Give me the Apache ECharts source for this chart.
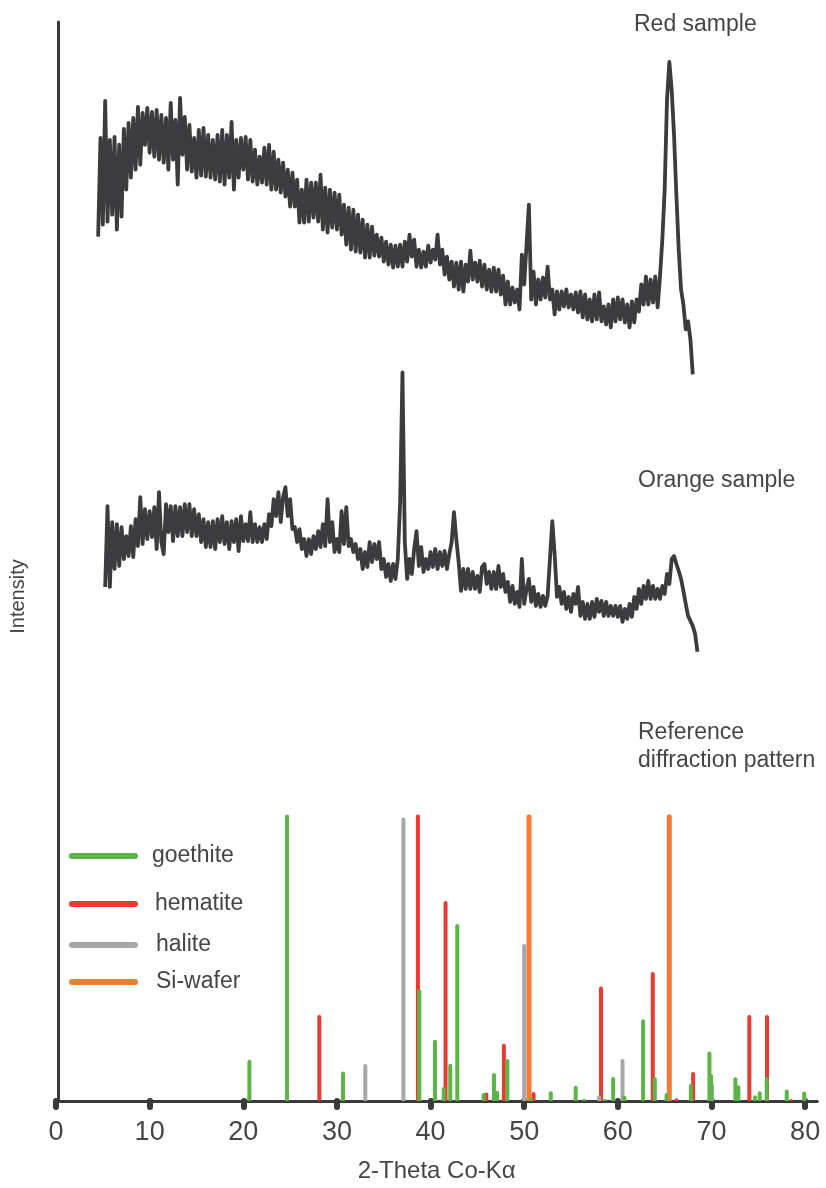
<!DOCTYPE html>
<html>
<head>
<meta charset="utf-8">
<script src="https://cdn.jsdelivr.net/npm/echarts@6/dist/echarts.min.js"></script>
<style>
html, body { margin: 0; padding: 0; background: #fff; }
#main { width: 826px; height: 1188px; }
</style>
</head>
<body>
<div id="main"></div>
<script>
// 2-theta tick labels
var xTicks = [0, 10, 20, 30, 40, 50, 60, 70, 80];

// measured scans, sampled every 0.25 deg 2-theta (arbitrary intensity, offset per sample)
var scanStep = 0.25;
var redStart = 4.5;
var redSample = [
    866,965,878,1002,881,963,888,966,873,958,
    886,974,913,980,925,985,933,996,938,990,
    958,995,950,991,946,993,943,988,940,985,
    933,1000,943,983,918,1005,948,986,933,978,
    931,965,925,973,927,975,926,968,925,963,
    923,968,921,973,918,968,925,981,913,963,
    925,965,933,966,923,963,921,953,918,946,
    920,955,918,958,913,951,913,943,910,940,
    906,933,896,930,896,923,880,913,880,923,
    881,920,885,920,881,928,873,915,870,913,
    875,910,873,908,868,898,858,895,853,893,
    851,888,850,883,845,878,845,876,847,868,
    846,865,841,861,838,858,835,857,836,858,
    836,861,841,868,846,863,836,853,835,851,
    836,857,840,853,843,868,838,853,828,846,
    823,841,816,840,813,841,811,838,821,852,
    823,840,821,842,816,838,813,833,811,835,
    811,833,808,827,798,821,798,815,800,813,
    793,848,818,858,898,803,831,798,823,803,
    825,805,836,803,813,788,811,793,811,796,
    813,795,808,793,810,790,811,785,808,783,
    803,781,808,783,810,781,796,778,798,775,
    803,781,805,783,803,780,798,775,801,780,
    803,791,818,798,826,798,823,800,826,795,
    826,863,913,1003,1041,1013,968,908,853,813,
    798,773,781,763,728
];
var orangeStart = 5.25;
var orangeSample = [
    515,596,515,580,533,578,536,575,543,566,
    546,576,545,583,556,605,558,593,563,591,
    565,595,553,610,560,548,598,570,596,561,
    596,566,595,566,598,570,598,566,593,566,
    588,560,583,555,580,555,581,553,583,560,
    586,558,580,553,581,560,583,551,586,561,
    578,561,590,560,578,560,575,560,578,563,
    588,576,603,586,610,580,605,615,586,603,
    573,575,560,573,553,563,546,563,548,566,
    553,571,555,578,556,603,560,580,550,563,
    550,591,558,595,556,563,550,558,543,553,
    533,550,535,560,540,558,543,560,533,543,
    525,538,521,538,523,543,600,730,560,523,
    543,528,553,571,536,555,530,543,533,550,
    535,553,533,550,536,551,533,548,560,590,
    563,540,511,533,513,533,513,530,513,526,
    510,535,538,518,530,513,530,513,536,515,
    528,510,520,500,516,498,510,495,543,498,
    513,523,500,515,496,508,495,506,496,506,
    543,581,548,505,515,498,510,493,505,490,
    508,498,515,486,500,483,498,483,500,485,
    503,490,501,486,500,486,496,486,496,485,
    496,480,493,483,498,485,505,493,513,498,
    516,503,521,503,516,503,513,503,516,508,
    528,518,543,546,538,531,523,511,498,486,
    481,476,468,450
];

// reference patterns: [2-theta, relative intensity %]
var goethite = [[20.65,14.4],[24.67,100],[30.65,10.3],[38.8,39],[40.47,21.4],[41.4,4.9],[42.1,13],[42.85,61.8],
    [45.66,2.8],[46.77,9.8],[47.1,3.6],[48.2,14.7],[50.7,1.4],[52.84,3.4],[55.5,5.3],[56.4,0.8],[58.6,0.8],
    [59.5,8.4],[60.7,1.8],[62.7,28.5],[63.95,8.4],[65.2,2.8],[67.8,5.9],[69.78,17.3],[69.96,9.4],[72.55,8.3],
    [72.87,5.5],[74.65,2],[75.15,3.4],[75.9,8.3],[78.04,4],[79.9,3.3]];
var hematite = [[28.12,30],[38.65,100],[41.6,69.8],[45.95,3],[47.83,20],[51.0,3.1],[58.2,40],[63.73,45],
    [66.26,1],[68.04,10.1],[74.04,30],[75.93,30],[78.5,0.7]];
var halite = [[33.03,12.9],[37.1,99],[50.0,54.8],[58.0,2],[60.5,14.7],[70.06,5.9]];
var siWafer = [[50.46,100],[65.44,100]];

function scan(start, vals) {
    return vals.map(function (v, i) { return [start + i * scanStep, v]; });
}

var axisColor = '#3a3a3c';
var textColor = '#454545';
var font = "'Liberation Sans', Arial, sans-serif";
var capsule = 'path://M3,0 L66,0 A3,3 0 0 1 66,6 L3,6 A3,3 0 0 1 3,0 Z';

function legendAt(name, top, gap) {
    return {
        data: [name], left: 69, top: top, icon: capsule,
        itemWidth: 69, itemHeight: 6, selectedMode: false, padding: 0,
        textStyle: { fontSize: 23, color: textColor, fontFamily: font, lineHeight: 26, padding: [0, 0, 0, gap] }
    };
}
function label(text, left, top) {
    return {
        text: text, left: left, top: top, padding: 0,
        textStyle: { fontSize: 23, fontWeight: 'normal', color: textColor, fontFamily: font, lineHeight: 28 }
    };
}
function sticks(name, data, color, width) {
    return {
        name: name, type: 'bar', yAxisIndex: 1, data: data, barWidth: width, barGap: '-100%',
        itemStyle: { color: color, borderRadius: [2, 2, 0, 0] }, silent: true
    };
}
function trace(name, data) {
    return {
        name: name, type: 'line', data: data, showSymbol: false, symbol: 'none', silent: true,
        lineStyle: { color: '#3c3c3e', width: 3.8, join: 'round' }
    };
}

var chart = echarts.init(document.getElementById('main'));
chart.setOption({
    animation: false,
    backgroundColor: '#fff',
    title: [
        label('Red sample', 634, 11),
        label('Orange sample', 638, 467),
        label('Reference\ndiffraction pattern', 638, 719)
    ],
    legend: [
        legendAt('goethite', 843, 9),
        legendAt('hematite', 891, 12),
        legendAt('halite', 932, 13),
        legendAt('Si-wafer', 969, 13)
    ],
    grid: { left: 55.5, right: 8.7, top: 22, bottom: 85, containLabel: false },
    xAxis: {
        type: 'value', min: 0, max: 81.3, interval: 10,
        name: '2-Theta Co-Kα', nameLocation: 'middle', nameGap: 58,
        nameTextStyle: { fontSize: 24, color: textColor, fontFamily: font },
        axisLine: { lineStyle: { color: axisColor, width: 3 } },
        axisTick: { customValues: xTicks, length: 6, lineStyle: { color: axisColor, width: 6, cap: 'round' } },
        axisLabel: { customValues: xTicks, fontSize: 27, color: textColor, fontFamily: font, margin: 18 },
        splitLine: { show: false }
    },
    yAxis: [{
        type: 'value', min: 0, max: 1081, offset: -2,
        name: 'Intensity', nameLocation: 'middle', nameGap: 30, nameRotate: 90,
        nameTextStyle: { fontSize: 20, color: textColor, fontFamily: font, padding: [0, 70, 0, 0] },
        axisLine: { show: true, lineStyle: { color: axisColor, width: 3 } },
        axisTick: { show: false }, axisLabel: { show: false }, splitLine: { show: false }
    }, {
        type: 'value', min: 0, max: 376.7, show: false
    }],
    series: [
        trace('Red sample', scan(redStart, redSample)),
        trace('Orange sample', scan(orangeStart, orangeSample)),
        sticks('hematite', hematite, '#e93b2f', 4),
        sticks('halite', halite, '#a7a7aa', 4),
        sticks('Si-wafer', siWafer, '#f47a36', 5),
        sticks('goethite', goethite, '#5cb547', 4)
    ]
});
</script>
</body>
</html>
